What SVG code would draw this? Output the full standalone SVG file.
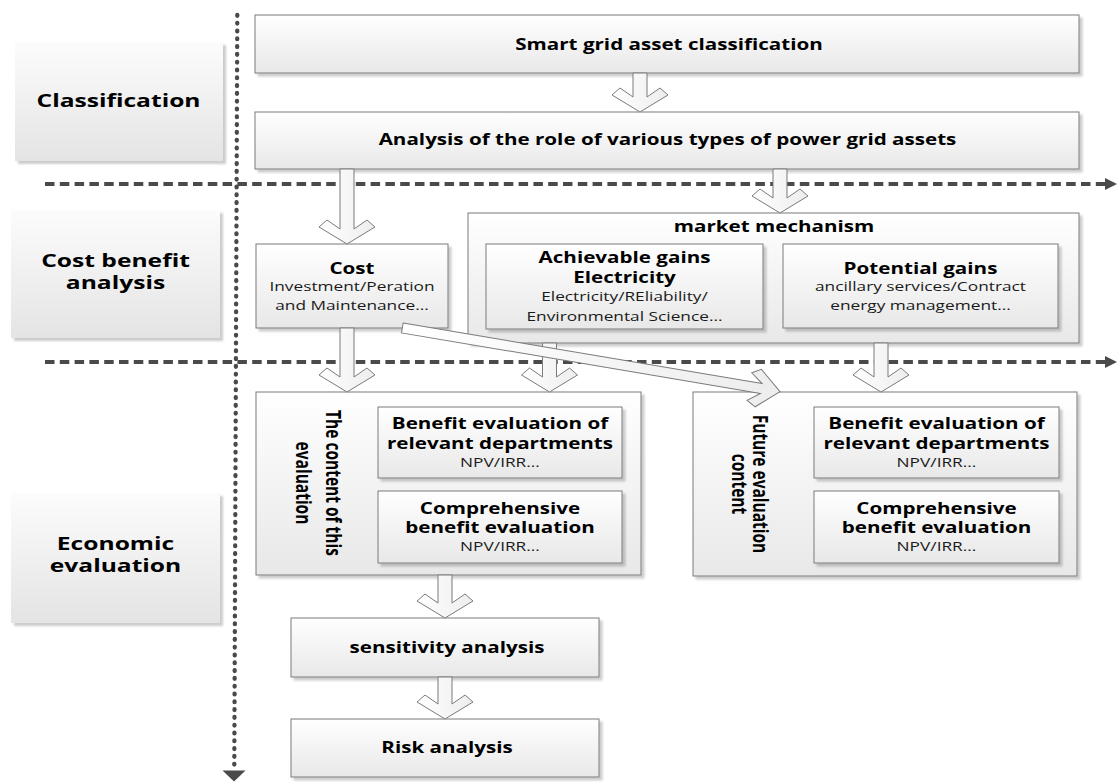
<svg xmlns="http://www.w3.org/2000/svg" width="1117" height="782" viewBox="0 0 1117 782">
  <defs>
    <linearGradient id="boxFill" x1="0" y1="0" x2="0" y2="1">
      <stop offset="0" stop-color="#ffffff"/>
      <stop offset="1" stop-color="#e8e8e8"/>
    </linearGradient>
    <linearGradient id="labelFill" x1="0" y1="0" x2="0" y2="1">
      <stop offset="0" stop-color="#fcfcfc"/>
      <stop offset="1" stop-color="#e4e4e4"/>
    </linearGradient>
    <linearGradient id="arrowFill" x1="0" y1="0" x2="1" y2="0">
      <stop offset="0" stop-color="#ffffff"/>
      <stop offset="1" stop-color="#ededed"/>
    </linearGradient>
    <filter id="shadow" x="-5%" y="-5%" width="115%" height="120%">
      <feDropShadow dx="3" dy="3" stdDeviation="0.8" flood-color="#000000" flood-opacity="0.2"/>
    </filter>
  </defs>
  <style>
    .box{fill:url(#boxFill);stroke:#7b7b7b;stroke-width:1;filter:url(#shadow)}
    .label{fill:url(#labelFill);filter:url(#shadow)}
    .arrow{fill:url(#arrowFill);stroke:#7b7b7b;stroke-width:1}
    .dash{fill:none;stroke:#4a4a4a;stroke-width:3.8;stroke-dasharray:9.5 5.3}
    .dot{fill:none;stroke:#4a4a4a;stroke-width:4.3;stroke-linecap:round;stroke-dasharray:0.8 7}
    .head{fill:#4a4a4a}
    text{font-family:"Open Sans","Liberation Sans",sans-serif;fill:#000000;text-anchor:middle}
    .b{font-weight:bold;font-size:15.5px}
    .lb{font-weight:bold;font-size:18.5px}
    .r{font-weight:normal;font-size:13px;fill:#1a1a1a}
  </style>

  <!-- phase separators -->
  <g id="guides">
    <path class="dash" d="M45,184 H1106"/>
    <polygon class="head" points="1105,178 1117,184 1105,190"/>
    <path class="dash" d="M45,362 H1106"/>
    <polygon class="head" points="1105,356 1117,362 1105,368"/>
    <path class="dot" d="M237.3,15 L234.3,766"/>
    <polygon class="head" points="222.5,770.5 245.5,770.5 234,781.5"/>
  </g>

  <!-- phase labels -->
  <g id="label-classification">
    <rect class="label" x="15" y="42" width="208" height="119"/>
    <text class="lb" transform="matrix(1.33 0 0 1 118.5 107)">Classification</text>
  </g>
  <g id="label-cost-benefit">
    <rect class="label" x="11" y="210" width="209" height="128"/>
    <text class="lb" transform="matrix(1.33 0 0 1 115.5 266.5)"><tspan x="0" y="0">Cost benefit</tspan><tspan x="0" y="23">analysis</tspan></text>
  </g>
  <g id="label-economic">
    <rect class="label" x="11" y="493" width="209" height="130"/>
    <text class="lb" transform="matrix(1.33 0 0 1 115.5 550)"><tspan x="0" y="0">Economic</tspan><tspan x="0" y="22.5">evaluation</tspan></text>
  </g>

  <!-- process boxes -->
  <g id="asset-classification">
    <rect class="box" x="255" y="15" width="824" height="58"/>
    <text class="b" transform="matrix(1.33 0 0 1 669 49.5)">Smart grid asset classification</text>
  </g>
  <g id="asset-role">
    <rect class="box" x="255" y="112" width="824" height="57"/>
    <text class="b" transform="matrix(1.33 0 0 1 667.5 145)">Analysis of the role of various types of power grid assets</text>
  </g>
  <g id="cost">
    <rect class="box" x="256" y="244" width="192" height="84"/>
    <text transform="matrix(1.33 0 0 1 352 274.3)"><tspan class="b" x="0" y="0">Cost</tspan><tspan class="r" x="0" y="16.4">Investment/Peration</tspan><tspan class="r" x="0" y="35.7">and Maintenance...</tspan></text>
  </g>
  <g id="market-mechanism">
    <rect class="box" x="468" y="213" width="611" height="130"/>
    <text class="b" transform="matrix(1.33 0 0 1 774 231.5)">market mechanism</text>
  </g>
  <g id="achievable-gains">
    <rect class="box" x="486" y="244" width="277" height="85"/>
    <text transform="matrix(1.33 0 0 1 624.5 262.7)"><tspan class="b" x="0" y="0">Achievable gains</tspan><tspan class="b" x="0" y="20.6">Electricity</tspan><tspan class="r" x="0" y="38">Electricity/REliability/</tspan><tspan class="r" x="0" y="58">Environmental Science...</tspan></text>
  </g>
  <g id="potential-gains">
    <rect class="box" x="783" y="244" width="275" height="84"/>
    <text transform="matrix(1.33 0 0 1 920.5 274.3)"><tspan class="b" x="0" y="0">Potential gains</tspan><tspan class="r" x="0" y="16.4">ancillary services/Contract</tspan><tspan class="r" x="0" y="35.7">energy management...</tspan></text>
  </g>
  <g id="current-evaluation">
    <rect class="box" x="256" y="392" width="385" height="183"/>
    <text class="b" transform="matrix(0 1 -1.33 0 326 483)"><tspan x="0" y="0">The content of this</tspan><tspan x="0" y="22.5">evaluation</tspan></text>
  </g>
  <g id="current-department-benefit">
    <rect class="box" x="378" y="407" width="244" height="71"/>
    <text transform="matrix(1.33 0 0 1 500 429.3)"><tspan class="b" x="0" y="0">Benefit evaluation of</tspan><tspan class="b" x="0" y="20">relevant departments</tspan><tspan class="r" x="0" y="38">NPV/IRR...</tspan></text>
  </g>
  <g id="current-comprehensive-benefit">
    <rect class="box" x="378" y="491" width="244" height="72"/>
    <text transform="matrix(1.33 0 0 1 500 514)"><tspan class="b" x="0" y="0">Comprehensive</tspan><tspan class="b" x="0" y="19.3">benefit evaluation</tspan><tspan class="r" x="0" y="37">NPV/IRR...</tspan></text>
  </g>
  <g id="future-evaluation">
    <rect class="box" x="693" y="392" width="384" height="184"/>
    <text class="b" transform="matrix(0 1 -1.33 0 752.5 484)"><tspan x="0" y="0">Future evaluation</tspan><tspan x="0" y="15.5">content</tspan></text>
  </g>
  <g id="future-department-benefit">
    <rect class="box" x="814" y="407" width="245" height="71"/>
    <text transform="matrix(1.33 0 0 1 936.5 429.3)"><tspan class="b" x="0" y="0">Benefit evaluation of</tspan><tspan class="b" x="0" y="20">relevant departments</tspan><tspan class="r" x="0" y="38">NPV/IRR...</tspan></text>
  </g>
  <g id="future-comprehensive-benefit">
    <rect class="box" x="814" y="491" width="245" height="72"/>
    <text transform="matrix(1.33 0 0 1 936.5 514)"><tspan class="b" x="0" y="0">Comprehensive</tspan><tspan class="b" x="0" y="19.3">benefit evaluation</tspan><tspan class="r" x="0" y="37">NPV/IRR...</tspan></text>
  </g>
  <g id="sensitivity-analysis">
    <rect class="box" x="291" y="618" width="308" height="59"/>
    <text class="b" transform="matrix(1.33 0 0 1 447 652.7)">sensitivity analysis</text>
  </g>
  <g id="risk-analysis">
    <rect class="box" x="291" y="719" width="308" height="58"/>
    <text class="b" transform="matrix(1.33 0 0 1 447 753.3)">Risk analysis</text>
  </g>

  <!-- hollow block arrows -->
  <g id="connectors">
    <path class="arrow" d="M633,73 V97 L620,88 L612,95 L640,112 L668,95 L660,88 L647,97 V73 Z"/>
    <path class="arrow" d="M340,169 V229 L327,220 L319,227 L347,244 L375,227 L367,220 L354,229 V169 Z"/>
    <path class="arrow" d="M773,169 V198 L760,189 L752,196 L780,213 L808,196 L800,189 L787,198 V169 Z"/>
    <path class="arrow" d="M340,328 V377 L327,368 L319,375 L347,392 L375,375 L367,368 L354,377 V328 Z"/>
    <path class="arrow" d="M542.5,343 V377 L529.5,368 L521.5,375 L549.5,392 L577.5,375 L569.5,368 L556.5,377 V343 Z"/>
    <path class="arrow" d="M874,343 V377 L861,368 L853,375 L881,392 L909,375 L901,368 L888,377 V343 Z"/>
    <path class="arrow" d="M438,575 V603 L425,594 L417,601 L445,618 L473,601 L465,594 L452,603 V575 Z"/>
    <path class="arrow" d="M438,677 V704 L425,695 L417,702 L445,719 L473,702 L465,695 L452,704 V677 Z"/>
    <path class="arrow" transform="translate(780,391.7) rotate(9.58)" d="M-383,-5 L-19,-5 L-31,-14 L-22,-19 L0,0 L-22,19 L-31,14 L-19,5 L-383,5 Z"/>
  </g>
</svg>
